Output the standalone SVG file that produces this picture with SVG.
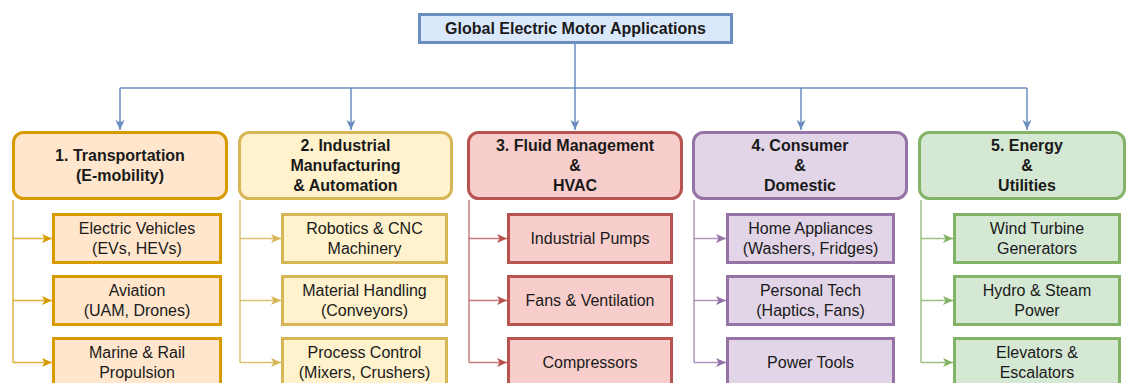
<svg xmlns="http://www.w3.org/2000/svg" width="1127" height="383" viewBox="0 0 1127 383">
<style>
text{font-family:"Liberation Sans",Arial,sans-serif;font-size:16px;fill:#1a1a1a;text-anchor:middle}
.b{font-weight:bold}
.hd{stroke-width:3}
.ch{stroke-width:3}
.c1{fill:#ffe6cc;stroke:#d79b00}
.c2{fill:#fff2cc;stroke:#d6b656}
.c3{fill:#f8cecc;stroke:#b85450}
.c4{fill:#e1d5e7;stroke:#9673a6}
.c5{fill:#d5e8d4;stroke:#82b366}
.cn{fill:none;stroke-width:1.5}
</style>
<defs>
<marker id="aB" markerUnits="userSpaceOnUse" markerWidth="10" markerHeight="10" refX="10" refY="5" orient="auto"><path d="M0,0.5 L10,5 L0,9.5 L2.5,5 z" fill="#6c8ebf"/></marker>
<marker id="a1" markerUnits="userSpaceOnUse" markerWidth="10" markerHeight="10" refX="10" refY="5" orient="auto"><path d="M0,0.5 L10,5 L0,9.5 L2.5,5 z" fill="#d79b00"/></marker>
<marker id="a2" markerUnits="userSpaceOnUse" markerWidth="10" markerHeight="10" refX="10" refY="5" orient="auto"><path d="M0,0.5 L10,5 L0,9.5 L2.5,5 z" fill="#d6b656"/></marker>
<marker id="a3" markerUnits="userSpaceOnUse" markerWidth="10" markerHeight="10" refX="10" refY="5" orient="auto"><path d="M0,0.5 L10,5 L0,9.5 L2.5,5 z" fill="#b85450"/></marker>
<marker id="a4" markerUnits="userSpaceOnUse" markerWidth="10" markerHeight="10" refX="10" refY="5" orient="auto"><path d="M0,0.5 L10,5 L0,9.5 L2.5,5 z" fill="#9673a6"/></marker>
<marker id="a5" markerUnits="userSpaceOnUse" markerWidth="10" markerHeight="10" refX="10" refY="5" orient="auto"><path d="M0,0.5 L10,5 L0,9.5 L2.5,5 z" fill="#82b366"/></marker>
</defs>

<g id="connectors">
  <g stroke="#6c8ebf" class="cn">
    <path class="cn" d="M575,43 V88"/>
    <path class="cn" d="M120,88 H1027"/>
    <path class="cn" d="M120,88 V130" marker-end="url(#aB)"/>
    <path class="cn" d="M351,88 V130" marker-end="url(#aB)"/>
    <path class="cn" d="M575,88 V130" marker-end="url(#aB)"/>
    <path class="cn" d="M801,88 V130" marker-end="url(#aB)"/>
    <path class="cn" d="M1027,88 V130" marker-end="url(#aB)"/>
  </g>
  <g stroke="#d79b00" stroke-opacity="0.75">
    <path class="cn" d="M13,200 V362.5"/>
    <path class="cn" d="M13,238.5 H52" marker-end="url(#a1)"/>
    <path class="cn" d="M13,300.5 H52" marker-end="url(#a1)"/>
    <path class="cn" d="M13,362.5 H52" marker-end="url(#a1)"/>
  </g>
  <g stroke="#d6b656" stroke-opacity="0.85">
    <path class="cn" d="M240,200 V362.5"/>
    <path class="cn" d="M240,238.5 H281" marker-end="url(#a2)"/>
    <path class="cn" d="M240,300.5 H281" marker-end="url(#a2)"/>
    <path class="cn" d="M240,362.5 H281" marker-end="url(#a2)"/>
  </g>
  <g stroke="#b85450" stroke-opacity="0.75">
    <path class="cn" d="M469,200 V362.5"/>
    <path class="cn" d="M469,238.5 H507" marker-end="url(#a3)"/>
    <path class="cn" d="M469,300.5 H507" marker-end="url(#a3)"/>
    <path class="cn" d="M469,362.5 H507" marker-end="url(#a3)"/>
  </g>
  <g stroke="#9673a6" stroke-opacity="0.75">
    <path class="cn" d="M694,200 V362.5"/>
    <path class="cn" d="M694,238.5 H726" marker-end="url(#a4)"/>
    <path class="cn" d="M694,300.5 H726" marker-end="url(#a4)"/>
    <path class="cn" d="M694,362.5 H726" marker-end="url(#a4)"/>
  </g>
  <g stroke="#82b366" stroke-opacity="0.8">
    <path class="cn" d="M921,200 V362.5"/>
    <path class="cn" d="M921,238.5 H953" marker-end="url(#a5)"/>
    <path class="cn" d="M921,300.5 H953" marker-end="url(#a5)"/>
    <path class="cn" d="M921,362.5 H953" marker-end="url(#a5)"/>
  </g>
</g>

<g id="root">
  <rect x="419.5" y="14.5" width="312" height="28" fill="#dae8fc" stroke="#6c8ebf" stroke-width="3"/>
  <text class="b" x="575.5" y="34">Global Electric Motor Applications</text>
</g>

<g id="h1"><rect class="c1 hd" x="13.5" y="132.5" width="213" height="66" rx="10"/>
  <text class="b" x="120" y="161">1. Transportation</text><text class="b" x="120" y="181">(E-mobility)</text></g>
<g id="h2"><rect class="c2 hd" x="239.5" y="132.5" width="212" height="66" rx="10"/>
  <text class="b" x="345.5" y="151">2. Industrial</text><text class="b" x="345.5" y="171">Manufacturing</text><text class="b" x="345.5" y="191">&amp; Automation</text></g>
<g id="h3"><rect class="c3 hd" x="468.5" y="132.5" width="213" height="66" rx="10"/>
  <text class="b" x="575" y="151">3. Fluid Management</text><text class="b" x="575" y="171">&amp;</text><text class="b" x="575" y="191">HVAC</text></g>
<g id="h4"><rect class="c4 hd" x="693.5" y="132.5" width="213" height="66" rx="10"/>
  <text class="b" x="800" y="151">4. Consumer</text><text class="b" x="800" y="171">&amp;</text><text class="b" x="800" y="191">Domestic</text></g>
<g id="h5"><rect class="c5 hd" x="919.5" y="132.5" width="205" height="66" rx="10"/>
  <text class="b" x="1027" y="151">5. Energy</text><text class="b" x="1027" y="171">&amp;</text><text class="b" x="1027" y="191">Utilities</text></g>

<g id="n1a"><rect class="c1 ch" x="53.5" y="214.5" width="167" height="48"/><text x="137" y="234">Electric Vehicles</text><text x="137" y="254">(EVs, HEVs)</text></g>
<g id="n1b"><rect class="c1 ch" x="53.5" y="276.5" width="167" height="48"/><text x="137" y="296">Aviation</text><text x="137" y="316">(UAM, Drones)</text></g>
<g id="n1c"><rect class="c1 ch" x="53.5" y="338.5" width="167" height="48"/><text x="137" y="358">Marine &amp; Rail</text><text x="137" y="378">Propulsion</text></g>

<g id="n2a"><rect class="c2 ch" x="282.5" y="214.5" width="164" height="48"/><text x="364.5" y="234">Robotics &amp; CNC</text><text x="364.5" y="254">Machinery</text></g>
<g id="n2b"><rect class="c2 ch" x="282.5" y="276.5" width="164" height="48"/><text x="364.5" y="296">Material Handling</text><text x="364.5" y="316">(Conveyors)</text></g>
<g id="n2c"><rect class="c2 ch" x="282.5" y="338.5" width="164" height="48"/><text x="364.5" y="358">Process Control</text><text x="364.5" y="378">(Mixers, Crushers)</text></g>

<g id="n3a"><rect class="c3 ch" x="508.5" y="214.5" width="163" height="48"/><text x="590" y="244">Industrial Pumps</text></g>
<g id="n3b"><rect class="c3 ch" x="508.5" y="276.5" width="163" height="48"/><text x="590" y="306">Fans &amp; Ventilation</text></g>
<g id="n3c"><rect class="c3 ch" x="508.5" y="338.5" width="163" height="48"/><text x="590" y="368">Compressors</text></g>

<g id="n4a"><rect class="c4 ch" x="727.5" y="214.5" width="166" height="48"/><text x="810.5" y="234">Home Appliances</text><text x="810.5" y="254">(Washers, Fridges)</text></g>
<g id="n4b"><rect class="c4 ch" x="727.5" y="276.5" width="166" height="48"/><text x="810.5" y="296">Personal Tech</text><text x="810.5" y="316">(Haptics, Fans)</text></g>
<g id="n4c"><rect class="c4 ch" x="727.5" y="338.5" width="166" height="48"/><text x="810.5" y="368">Power Tools</text></g>

<g id="n5a"><rect class="c5 ch" x="954.5" y="214.5" width="165" height="48"/><text x="1037" y="234">Wind Turbine</text><text x="1037" y="254">Generators</text></g>
<g id="n5b"><rect class="c5 ch" x="954.5" y="276.5" width="165" height="48"/><text x="1037" y="296">Hydro &amp; Steam</text><text x="1037" y="316">Power</text></g>
<g id="n5c"><rect class="c5 ch" x="954.5" y="338.5" width="165" height="48"/><text x="1037" y="358">Elevators &amp;</text><text x="1037" y="378">Escalators</text></g>
</svg>
